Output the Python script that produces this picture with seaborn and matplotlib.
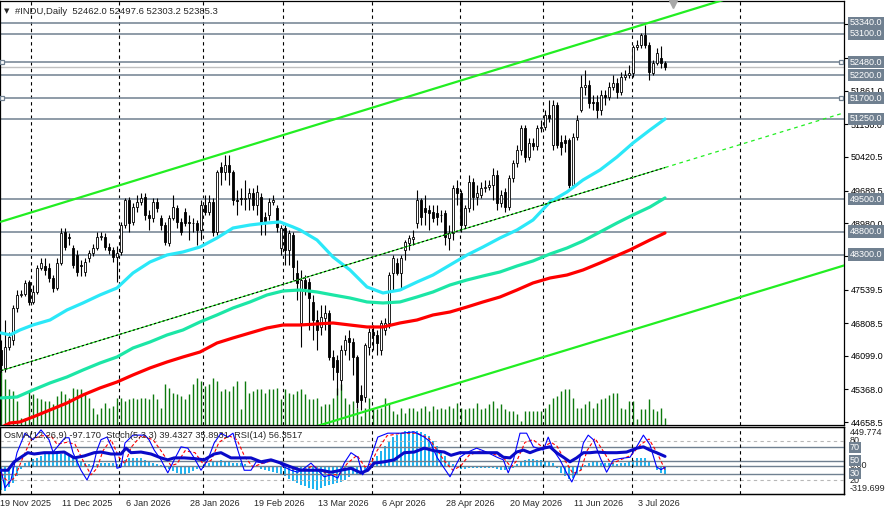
import matplotlib
matplotlib.use("Agg")
import matplotlib.pyplot as plt
import matplotlib.transforms as mtransforms
from matplotlib.patches import Rectangle
import seaborn as sns

sns.set_style("white")
plt.rcParams["font.family"] = ["Liberation Sans", "DejaVu Sans"]

# ---------------- data ----------------
opens = [
    46225, 45834, 46290, 46442, 47138, 47421, 47442, 47703, 47268, 47486,
    48008, 48051, 48008, 47790, 47573, 48116, 48790, 48681, 48442, 48290,
    48073, 47921, 48225, 48334, 48442, 48681, 48681, 48464, 48399, 48247,
    48355, 48942, 49486, 49008, 49334, 49442, 49551, 49160, 49095, 49442,
    49095, 48942, 48551, 49095, 49312, 49008, 49225, 49008, 48986, 48986,
    48834, 49377, 49225, 49442, 48790, 50203, 50095, 50247, 50095, 49486,
    49529, 49515, 49529, 49638, 49377, 49551, 49116, 49160, 49442, 49312,
    48442, 48877, 48399, 48725, 47899, 46812, 47747, 47703, 47268, 46877,
    46725, 46921, 47029, 46073, 46008, 45573, 46225, 46486, 46400, 46073,
    45247, 45203, 46290, 46616, 46551, 46225, 46660, 46812, 47899, 48116,
    47899, 48399, 48551, 48638, 48986, 49486, 49312, 49269, 49225, 49203,
    49160, 49203, 48660, 48768, 49747, 49638, 48942, 49312, 49877, 49551,
    49595, 49747, 49769, 49812, 50030, 49421, 49660, 49334, 49964, 50290,
    50573, 51051, 50421, 50725, 50660, 51051, 51073, 51334, 50682, 51551,
    50747, 50790, 50790, 49812, 50856, 51443, 51943, 51986, 51617, 51617,
    51443, 51769, 51725, 51943, 52030, 51834, 52160, 52204, 52247, 52812,
    52856, 53073, 52856, 52247, 52464, 52573, 52462.0,
]
highs = [
    46442, 46877, 46616, 47203, 47529, 47529, 47747, 47747, 47638, 48073,
    48225, 48225, 48116, 47855, 48225, 48877, 48877, 48768, 48507, 48399,
    48182, 48225, 48399, 48529, 48790, 48790, 48768, 48551, 48464, 48486,
    49008, 49529, 49551, 49421, 49595, 49638, 49638, 49269, 49529, 49529,
    49160, 49008, 49160, 49595, 49377, 49095, 49312, 49160, 49095, 49051,
    49486, 49595, 49595, 49529, 50138, 50312, 50464, 50464, 50138, 49703,
    49747, 49921, 49747, 49747, 49812, 49638, 49225, 49529, 49595, 49377,
    48942, 48942, 48834, 48790, 48182, 47964, 47855, 47790, 47421, 47095,
    47203, 47203, 47095, 46225, 46116, 46334, 46551, 46660, 46486, 46116,
    45464, 46377, 46703, 46768, 46660, 46877, 46921, 47921, 48290, 48225,
    48290, 48616, 48725, 48834, 49703, 49529, 49595, 49377, 49377, 49377,
    49269, 49269, 48942, 49812, 49921, 49703, 49377, 50030, 49964, 49812,
    49877, 49921, 49921, 50182, 50138, 49703, 49747, 50030, 50356, 50682,
    51117, 51117, 50834, 50834, 51117, 51225, 51443, 51660, 51660, 51617,
    50899, 50899, 50834, 50943, 51334, 52204, 52312, 52095, 51769, 51769,
    51877, 51877, 52051, 52204, 52138, 52269, 52312, 52421, 52856, 52964,
    53117, 53291, 52921, 52530, 52790, 52834, 52497.6,
]
lows = [
    45747, 45747, 46225, 46334, 47051, 47377, 47399, 47203, 47225, 47442,
    47964, 47855, 47703, 47486, 47529, 48073, 48399, 48507, 48008, 47834,
    47834, 47834, 48138, 48268, 48399, 48616, 48399, 48312, 48138, 47703,
    48290, 48877, 48790, 48942, 49225, 49377, 49051, 48834, 49008, 49225,
    48834, 48507, 48486, 49051, 48877, 48725, 48921, 48616, 48790, 48507,
    48616, 49160, 49160, 48703, 48725, 49812, 49921, 49812, 49377, 49160,
    49377, 49269, 49269, 49269, 49160, 48725, 48725, 49051, 49377, 48790,
    48290, 48073, 48073, 47747, 47312, 46290, 47421, 46660, 46442, 46225,
    46551, 46660, 46008, 45573, 45247, 45355, 46116, 46008, 45682, 44964,
    44921, 45094, 46116, 46225, 46116, 46116, 46551, 46703, 47529, 47855,
    47529, 48182, 48399, 48507, 48877, 48942, 48942, 48834, 49008, 48942,
    49008, 48507, 48399, 48616, 49377, 48790, 48877, 49225, 49269, 49377,
    49529, 49660, 49703, 49486, 49269, 49334, 49225, 49269, 49877, 50203,
    50464, 50312, 50356, 50573, 50573, 50964, 51008, 51182, 50573, 50617,
    50464, 50529, 49747, 49747, 50790, 51399, 51769, 51486, 51443, 51269,
    51334, 51551, 51660, 51877, 51704, 51769, 52095, 52138, 52160, 52747,
    52790, 52790, 52095, 52204, 52421, 52356, 52303.2,
]
closes = [
    45899, 46290, 46508, 47138, 47421, 47442, 47681, 47268, 47486, 48008,
    48116, 47964, 47790, 47573, 48116, 48768, 48464, 48660, 48073, 47921,
    48060, 48138, 48334, 48442, 48681, 48703, 48464, 48399, 48247, 48334,
    48942, 49486, 48986, 49334, 49442, 49529, 49160, 49095, 49442, 49312,
    48942, 48573, 49095, 49334, 49008, 48790, 48986, 48990, 48975, 48834,
    49377, 49225, 49442, 48790, 50095, 50095, 50247, 50095, 49486, 49470,
    49515, 49529, 49638, 49377, 49660, 49008, 49008, 49442, 49486, 48899,
    48877, 48399, 48768, 48029, 47681, 47747, 47573, 47355, 46877, 46660,
    46942, 47029, 46073, 45856, 45747, 46225, 46442, 46400, 46073, 45094,
    45138, 46334, 46616, 46551, 46377, 46812, 46812, 47855, 48225, 47899,
    48225, 48573, 48660, 48681, 49486, 49116, 49225, 49203, 49095, 49116,
    49150, 48681, 48768, 49747, 49638, 48942, 49312, 49877, 49551, 49638,
    49747, 49769, 49812, 50030, 49421, 49595, 49334, 49964, 50290, 50573,
    51051, 50421, 50725, 50660, 51051, 51073, 51334, 51269, 51551, 50682,
    50638, 50725, 49812, 50856, 51225, 51943, 51986, 51595, 51595, 51443,
    51769, 51725, 51943, 52030, 51834, 52160, 52204, 52247, 52812, 52856,
    53073, 52856, 52269, 52464, 52682, 52464, 52385.3,
]
volumes = [
    54, 46, 36, 34, 24, 7, 7, 34, 31, 27, 26, 24, 24, 21, 29, 34, 31, 27, 37, 36,
    36, 31, 27, 17, 11, 17, 22, 17, 19, 27, 27, 24, 26, 27, 26, 27, 27, 26, 31, 26,
    17, 41, 37, 32, 31, 29, 26, 31, 41, 47, 44, 39, 41, 47, 44, 34, 36, 34, 39, 44,
    16, 44, 32, 34, 36, 36, 32, 36, 36, 37, 26, 36, 32, 31, 34, 36, 31, 26, 26, 27,
    19, 21, 21, 27, 37, 41, 27, 21, 24, 17, 9, 17, 27, 17, 16, 17, 27, 22, 14, 11,
    17, 12, 17, 17, 14, 17, 19, 14, 19, 16, 17, 16, 19, 17, 22, 17, 16, 17, 17, 22,
    16, 17, 21, 24, 17, 21, 16, 14, 14, 11, 4, 14, 14, 14, 14, 14, 17, 21, 27, 29,
    34, 36, 36, 27, 17, 17, 21, 24, 17, 22, 26, 27, 30, 32, 32, 17, 16, 24, 24, 6,
    16, 16, 26, 16, 14, 17, 7,
]

# moving averages (bar, price)
ma_fast_bar = [0, 2.25, 4.75, 8, 12.25, 16.5, 20.5, 24.75, 29, 33, 37.25, 41.5, 45.5, 49.75,
               54, 58, 62.25, 66.5, 69.75, 73, 74.75, 79, 83, 87.25, 91.5, 95.5, 99.75, 104,
               108, 112.25, 116.5, 120.5, 124.75, 129, 133, 137.25, 141.5, 145.5, 149.75, 154,
               158, 162.25, 166]
ma_fast = [46595, 46551, 46660, 46769, 46877, 47095, 47247, 47421, 47573, 47899, 48138, 48290,
           48356, 48464, 48660, 48877, 48942, 48986, 49008, 48899, 48834, 48616, 48247, 47964,
           47595, 47464, 47529, 47703, 47855, 48073, 48290, 48464, 48660, 48834, 49051, 49443,
           49660, 49921, 50138, 50421, 50725, 51008, 51247]
ma_mid_bar = [0, 4, 8, 12.25, 16.5, 20.5, 24.75, 29, 33, 37.25, 41.5, 45.5, 49.75, 54, 58, 62.25,
              66.5, 70.5, 74.75, 79, 83, 87.25, 91.5, 95.5, 99.75, 104, 108, 112.25, 116.5, 120.5,
              124.75, 129, 133, 137.25, 141.5, 145.5, 149.75, 154, 158, 162.25, 166]
ma_mid = [45182, 45203, 45355, 45508, 45638, 45790, 45942, 46073, 46268, 46399, 46551, 46660,
          46834, 46986, 47138, 47269, 47421, 47508, 47529, 47486, 47421, 47355, 47269, 47247,
          47269, 47377, 47486, 47638, 47747, 47834, 47921, 48051, 48160, 48312, 48442, 48594,
          48790, 48986, 49160, 49334, 49530]
ma_slow_bar = [-0.25, 2.25, 4.75, 8, 12.25, 16.5, 20.5, 24.75, 29, 33, 37.25, 41.5, 45.5, 49.75,
               54, 58, 62.25, 66.5, 70.5, 74.75, 83, 87.25, 91.5, 95.5, 99.75, 104, 108, 112.25,
               116.5, 120.5, 124.75, 129, 133, 137.25, 141.5, 145.5, 149.75, 157.25, 162.25, 166]
ma_slow = [44529, 44638, 44660, 44769, 44921, 45073, 45247, 45399, 45529, 45682, 45834, 45964,
           46073, 46181, 46377, 46486, 46595, 46703, 46768, 46768, 46812, 46768, 46725, 46725,
           46812, 46877, 46986, 47051, 47160, 47269, 47377, 47530, 47682, 47790, 47855, 47964,
           48116, 48401, 48617, 48769]

# trend channel anchors (bar, price)
upper_bar, upper_px = [0, 210.75], [49014, 54641]
lower_bar, lower_px = [60, 210.75], [44067, 48062]
mid_bar, mid_px = [0, 166], [45775, 50191]
mid_ext_bar, mid_ext_px = [166, 210.75], [50191, 51381]

levels = [53340, 53100, 52480, 52200, 51700, 51250, 49500, 48800, 48300]
marked_levels = [52480, 51700]
bid = 52385.3
price_ticks = [44658.5, 45368.0, 46099.0, 46808.5, 47539.5, 48270.0, 48980.0, 49689.5,
               50420.5, 51130.0, 51861.0, 52570.5, 53301.5]

# indicator window
osma = [
    -280, -300, -250, -200, -120, -40, 30, 60, 80, 100,
    120, 140, 150, 150, 150, 140, 140, 120, 100, 80,
    60, 30, 20, 10, 20, 30, 40, 40, 30, 20,
    40, 70, 90, 100, 100, 90, 70, 50, 30, 20,
    10, -20, -40, -60, -80, -90, -90, -80, -60, -40,
    -10, 20, 30, 50, 60, 70, 60, 50, 40, 30,
    30, 20, 0, -10, -10, -30, -50, -60, -70, -80,
    -100, -120, -150, -180, -200, -220, -240, -260, -270, -280,
    -260, -240, -220, -210, -200, -190, -160, -130, -110, -100,
    -90, -60, 0, 60, 120, 180, 240, 300, 340, 370,
    390, 410, 420, 420, 420, 400, 380, 350, 300, 240,
    180, 120, 60, 20, -10, -30, -30, -20, -20, -20,
    -20, -20, -20, -20, -40, -50, -50, -40, -20, 20,
    60, 70, 80, 80, 70, 70, 60, 50, 30, -20,
    -80, -120, -150, -140, -100, -50, 10, 40, 50, 50,
    40, 30, 30, 30, 20, 30, 40, 50, 70, 90,
    100, 90, 60, 0, -50, -80, -97.17,
]
stoch_k_bar = [0, 1, 2.5, 4, 6, 8, 10, 12, 13, 16, 17, 18, 20, 21.5, 23, 24, 25, 26.5, 28.3, 29,
               30, 31, 33, 36, 37, 38.3, 40, 41.7, 43.3, 45, 46.7, 48.3, 50, 51.7, 53.3, 55,
               56.7, 58, 59.2, 60.8, 62.5, 63.8, 65.8, 67.5, 69.2, 70.8, 72.5, 74.2, 75.8, 77.5,
               79.2, 80.8, 82.5, 84.2, 85.8, 87.5, 89.2, 90.4, 91.7, 92.9, 94.2, 96.7, 100,
               103.3, 105.8, 107.25, 109, 110.6, 112.25, 113.9, 114.75, 116.4, 118.9, 121.4,
               124, 125.6, 126.8, 128.1, 129.75, 131.4, 133.1, 135.6, 136.8, 138.1, 139.75,
               141.4, 142.7, 144, 145.6, 146.8, 148.1, 149.75, 151.4, 153.1, 154.75, 157.25,
               158.9, 160.6, 162.25, 163.9, 165, 166]
stoch_k = [35, 8, 20, 62, 92, 82, 97, 82, 63, 85, 85, 62, 35, 20, 40, 66, 82, 86, 62, 38,
           40, 77, 89, 89, 82, 66, 51, 31, 51, 71, 69, 54, 35, 51, 77, 92, 86, 92, 66, 35,
           35, 48, 46, 51, 48, 40, 35, 32, 38, 46, 35, 25, 28, 23, 46, 62, 55, 28, 40, 62,
           86, 92, 92, 94, 86, 79, 55, 40, 25, 45, 55, 62, 69, 63, 55, 51, 31, 51, 92, 92,
           71, 66, 86, 66, 51, 31, 17, 35, 77, 89, 82, 55, 32, 51, 53, 55, 71, 89, 74, 40,
           36, 39.4327]
stoch_d_bar = [0, 2, 3.5, 5.5, 7.5, 10, 12.5, 14, 16.5, 18.5, 20.5, 22.5, 24, 25.5, 27.5, 29.5,
               31, 32.5, 35, 38, 40, 42.5, 44, 46, 48.5, 50.5, 52.5, 54.5, 57, 59, 61, 63, 65,
               68, 70.5, 73, 76, 78, 80, 82, 84.5, 86.5, 89, 91, 92.5, 94, 96.5, 100, 104, 107,
               109, 111, 113, 115, 117, 120, 123, 125.5, 127.5, 129, 131, 133, 135.5, 137.5,
               139, 141, 143, 145, 146.5, 148.5, 150.5, 152.5, 154.5, 157.5, 160, 162, 164, 166]
stoch_d = [30, 15, 25, 55, 82, 88, 88, 75, 78, 75, 50, 28, 38, 65, 82, 55, 45, 70, 88, 82,
           65, 42, 45, 65, 62, 45, 50, 78, 88, 82, 55, 40, 45, 50, 45, 37, 36, 42, 35, 28,
           28, 45, 58, 40, 45, 65, 88, 92, 92, 84, 66, 48, 35, 42, 58, 65, 60, 55, 40, 50,
           78, 82, 70, 78, 72, 50, 30, 35, 65, 84, 65, 45, 50, 58, 75, 83, 62, 35.8931]
rsi_bar = [0, 1.7, 3.3, 5, 6.7, 8.3, 10.8, 13.3, 15.8, 18.3, 20.8, 23.3, 25, 27.5, 30, 31.25,
           32.5, 35, 37.5, 40, 41.7, 43.3, 45.8, 48.3, 50.8, 53.3, 55, 57.5, 60, 62.5, 65,
           67.5, 70, 72.5, 75, 77.5, 80, 82.5, 85, 87.5, 90, 91.7, 93.3, 95.8, 98.3, 100.8,
           103.3, 105.8, 108.3, 110.8, 112.5, 114.75, 117.25, 119.75, 122.25, 124, 125.6,
           127.25, 128.9, 130.6, 132.25, 133.9, 135.6, 137.25, 138.9, 140.6, 142.25, 143.9,
           145.6, 147.25, 148.9, 151.4, 153.9, 156.4, 159, 160.6, 162.25, 163.9, 166]
rsi = [35, 35, 48, 55, 62, 60, 62, 62, 63, 54, 57, 62, 63, 60, 60, 69, 62, 63, 60, 54,
       51, 54, 54, 53, 51, 60, 62, 54, 54, 54, 48, 51, 46, 40, 35, 35, 35, 32, 35, 38,
       31, 35, 46, 48, 51, 62, 63, 69, 65, 63, 58, 62, 62, 62, 62, 62, 55, 54, 63, 66,
       62, 66, 69, 71, 62, 55, 48, 54, 62, 62, 63, 62, 62, 63, 69, 71, 66, 62, 56.3517]
osma_max, osma_min = 449.774, -319.699

date_bars = [0, 16, 32, 48, 64, 80, 96, 112, 128, 144, 160]
date_labels = ["19 Nov 2025", "11 Dec 2025", "6 Jan 2026", "28 Jan 2026", "19 Feb 2026",
               "13 Mar 2026", "6 Apr 2026", "28 Apr 2026", "20 May 2026", "11 Jun 2026",
               "3 Jul 2026"]
month_starts = [7.5, 29.5, 50.5, 70.5, 92.75, 114.75, 135.5, 157.75, 184.75]

# ---------------- figure ----------------
W, H = 887, 512
LEVEL = "#708090"


def rect(x0, y0, x1, y1):
    return [x0 / W, 1 - y1 / H, (x1 - x0) / W, (y1 - y0) / H]


fig = plt.figure(figsize=(W / 100, H / 100), dpi=100)
fig.patch.set_facecolor("white")

axv = fig.add_axes(rect(0, 1, 844, 425))
ax = fig.add_axes(rect(0, 1, 844, 425), sharex=axv)
axv.set_zorder(0)
ax.set_zorder(1)
ax.patch.set_visible(False)
axv.set_xlim(-0.25, 210.75)
axv.set_ylim(0, 424)
axv.axis("off")
n = len(closes)
axv.vlines(range(n), 0, volumes, color="#0E7A0E", lw=1.0)

ax.set_ylim(44594, 53812)
for s in ax.spines.values():
    s.set_color("black")
    s.set_linewidth(0.9)

for m in month_starts:
    ax.axvline(m, color="black", lw=0.8, ls=(0, (3, 3)), zorder=1)
for lv in levels:
    ax.axhline(lv, color=LEVEL, lw=1.1, zorder=2)
ax.axhline(bid, color="#C0C0C0", lw=1.0, zorder=2)
ytr = mtransforms.blended_transform_factory(ax.transAxes, ax.transData)
for lv in marked_levels:
    ax.plot([0.002, 0.997], [lv, lv], ls="none", marker="s", ms=3.2, mfc="white",
            mec=LEVEL, mew=0.9, transform=ytr, clip_on=False, zorder=6)

# candles
for i in range(n):
    o, h, l, c = opens[i], highs[i], lows[i], closes[i]
    ax.vlines(i, l, h, color="black", lw=0.8, zorder=4)
    body = max(abs(c - o), 12)
    ax.add_patch(Rectangle((i - 0.32, min(o, c)), 0.64, body,
                           fc="white" if c >= o else "black", ec="black", lw=0.6, zorder=5))

# moving averages
sns.lineplot(x=ma_slow_bar, y=ma_slow, ax=ax, color="#FF0000", lw=2.3, zorder=7)
sns.lineplot(x=ma_mid_bar, y=ma_mid, ax=ax, color="#1CE6A6", lw=2.3, zorder=7)
sns.lineplot(x=ma_fast_bar, y=ma_fast, ax=ax, color="#2BE8F8", lw=2.3, zorder=7)

# channel
sns.lineplot(x=upper_bar, y=upper_px, ax=ax, color="#22EE22", lw=1.6, zorder=8)
sns.lineplot(x=lower_bar, y=lower_px, ax=ax, color="#22EE22", lw=1.6, zorder=8)
sns.lineplot(x=mid_bar, y=mid_px, ax=ax, color="#22EE22", lw=0.8, zorder=8)
sns.lineplot(x=mid_bar, y=mid_px, ax=ax, color="black", lw=0.8, ls=(0, (2, 2)), zorder=8)
sns.lineplot(x=mid_ext_bar, y=mid_ext_px, ax=ax, color="#22EE22", lw=0.9, ls=(0, (3, 3)),
             zorder=8)
ax.plot(168, 53750, marker="v", ms=6, color="#A8A8A8", ls="none", zorder=9, clip_on=False)

ax.set_xlim(-0.25, 210.75)
ax.set_xlabel("")
ax.set_ylabel("")
ax.tick_params(axis="x", bottom=False, labelbottom=False)
ax.yaxis.tick_right()
ax.set_yticks(price_ticks)
ax.set_yticklabels([f"{t:.1f}" for t in price_ticks])
ax.tick_params(axis="y", labelsize=6.5, length=3, width=0.8, pad=2, colors="black")
for lv in levels:
    ax.text(1.0 + 6 / 844, lv, f"{lv:.1f}", transform=ytr, fontsize=6.5, color="white",
            va="center", ha="left", zorder=10, clip_on=False,
            bbox=dict(boxstyle="square,pad=0.18", fc=LEVEL, ec="none"))

fig.text(4 / W, 1 - 11 / H, "\u25BC", fontsize=5, family=["DejaVu Sans"], va="center")
fig.text(15 / W, 1 - 11 / H, "#INDU,Daily  52462.0 52497.6 52303.2 52385.3",
         fontsize=6.8, va="center")

# ---------------- indicator window ----------------
ax2 = fig.add_axes(rect(0, 427, 844, 494), sharex=ax)
ax2b = ax2.twinx()
ax2.set_zorder(ax2b.get_zorder() + 1)
ax2.patch.set_visible(False)
ax2b.set_ylim(-331.5, 461.7)
ax2.set_ylim(-1.5, 101.5)
ax2b.bar(range(n), osma, width=0.6, color="#22B4F0", edgecolor="none", linewidth=0, zorder=2)
ax2b.axhline(0, color=LEVEL, lw=1.0, zorder=3)
for lv in (80, 20):
    ax2.axhline(lv, color="#B8B8B8", lw=0.8, ls=(0, (3, 3)), zorder=1)
for lv in (70, 50, 30):
    ax2.axhline(lv, color=LEVEL, lw=1.0, zorder=1)
for m in month_starts:
    ax2.axvline(m, color="black", lw=0.8, ls=(0, (3, 3)), zorder=1)
sns.lineplot(x=stoch_d_bar, y=stoch_d, ax=ax2, color="#FF0000", lw=0.8, ls=(0, (3, 2)), zorder=3)
sns.lineplot(x=stoch_k_bar, y=stoch_k, ax=ax2, color="#0000FF", lw=0.8, zorder=4)
sns.lineplot(x=rsi_bar, y=rsi, ax=ax2, color="#0A0AC8", lw=2.2, zorder=5)
ax2.set_xlim(-0.25, 210.75)
for a in (ax2, ax2b):
    a.set_yticks([])
    a.set_xlabel("")
    a.set_ylabel("")
    a.tick_params(axis="x", bottom=False, labelbottom=False)
    for s in a.spines.values():
        s.set_color("black")
        s.set_linewidth(0.9)

ytr2 = mtransforms.blended_transform_factory(ax2.transAxes, ax2.transData)
ytr2b = mtransforms.blended_transform_factory(ax2b.transAxes, ax2b.transData)
xr = 1.0 + 6 / 844
ax2b.text(xr, osma_max, f"{osma_max:.3f}", transform=ytr2b, fontsize=6.5, va="top",
          ha="left", clip_on=False)
ax2b.text(xr, osma_min, f"{osma_min:.3f}", transform=ytr2b, fontsize=6.5, va="bottom",
          ha="left", clip_on=False)
ax2b.text(xr, 0, "0.00", transform=ytr2b, fontsize=6.5, va="center", ha="left", clip_on=False)
for lv in (80, 20):
    ax2.text(xr, lv, str(lv), transform=ytr2, fontsize=6.5, va="center", ha="left",
             clip_on=False)
for lv in (70, 50, 30):
    ax2.text(xr, lv, str(lv), transform=ytr2, fontsize=6.5, color="white", va="center",
             ha="left", clip_on=False, zorder=10,
             bbox=dict(boxstyle="square,pad=0.15", fc=LEVEL, ec="none"))
ax2.text(4 / 844, 0.88, "OsMA(12,26,9) -97.170  Stoch(5,3,3) 39.4327 35.8931  RSI(14) 56.3517",
         transform=ax2.transAxes, fontsize=6.7, va="center", ha="left", zorder=10)

xtr = mtransforms.blended_transform_factory(ax2.transData, ax2.transAxes)
for b, lab in zip(date_bars, date_labels):
    ax2.text(max(b - 0.75, -0.2), -0.135, lab, transform=xtr, fontsize=6.5, ha="left",
             va="center", clip_on=False)

fig.savefig("out.png", dpi=100, facecolor="white")
